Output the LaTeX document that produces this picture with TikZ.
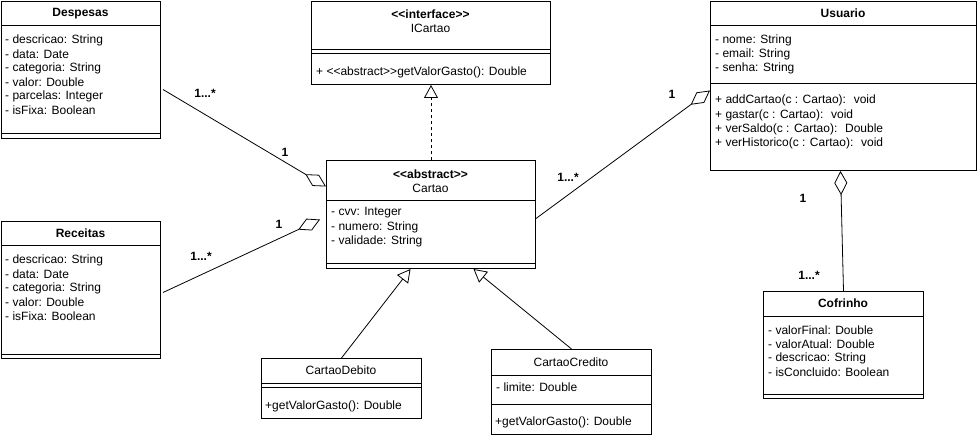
\documentclass[tikz,border=0pt]{standalone}
\usepackage{fontspec}
\setmainfont{Liberation Sans}
\usetikzlibrary{arrows.meta}

\newcommand{\stereo}[1]{<{}<#1>{}>}

\begin{document}
\begin{tikzpicture}[x=1pt, y=-1pt,
		class/.style = {draw, line width=1pt, anchor=north west,
				inner sep=0pt},
		title/.style = {font=\fontsize{12}{14}\selectfont, align=center,
				inner sep=0pt},
		attr/.style = {anchor=west, inner sep=0pt,
				font=\fontsize{12}{14}\selectfont},
		mult/.style = {inner sep=0pt, font=\fontsize{12}{14}\selectfont\bfseries},
		aggr/.style = {line width=0.8pt, -{Diamond[open, length=24pt, width=13pt]}},
		inherit/.style = {line width=0.8pt, -{Triangle[open, length=13pt, width=14pt]}}
	]
	\useasboundingbox (0,0) rectangle (977,438);

	% classes
	\node[class, minimum width=159pt, minimum height=137pt] (desp) at (1,1) {};
	\draw[line width=1pt] (desp.north west) ++(0,25) -- ++(159,0);
	\draw[line width=1pt] (desp.north west) ++(0,133) -- ++(159,0);
	\node[title] (desp-t) at (80.5,13.5) {\bfseries Despesas};
	\foreach \t [count=\i] in {- descricao: String, - data: Date,
			- categoria: String, - valor: Double, - parcelas: Integer,
			- isFixa: Boolean}
		\node[attr] (desp-a\i) at (5,{26+14*\i}) {\t};

	\node[class, minimum width=159pt, minimum height=137pt] (rec) at (1,221) {};
	\draw[line width=1pt] (rec.north west) ++(0,25) -- ++(159,0);
	\draw[line width=1pt] (rec.north west) ++(0,133) -- ++(159,0);
	\node[title] (rec-t) at (80.5,233.5) {\bfseries Receitas};
	\foreach \t [count=\i] in {- descricao: String, - data: Date,
			- categoria: String, - valor: Double, - isFixa: Boolean}
		\node[attr] (rec-a\i) at (5,{246+14*\i}) {\t};

	\node[class, minimum width=239pt, minimum height=83pt] (icartao) at (311,1) {};
	\draw[line width=1pt] (icartao.north west) ++(0,49) -- ++(239,0);
	\draw[line width=1pt] (icartao.north west) ++(0,53) -- ++(239,0);
	\node[title] (icartao-t) at (430.5,21) {\bfseries\stereo{interface}\\ICartao};
	\node[attr] (icartao-m1) at (316,72)
	{+ \stereo{abstract}getValorGasto(): Double};

	\node[class, minimum width=209pt, minimum height=108pt] (cartao) at (326,160) {};
	\draw[line width=1pt] (cartao.north west) ++(0,41) -- ++(209,0);
	\draw[line width=1pt] (cartao.north west) ++(0,104) -- ++(209,0);
	\node[title] (cartao-t) at (430.5,181) {\bfseries\stereo{abstract}\\Cartao};
	\foreach \t [count=\i] in {- cvv: Integer, - numero: String,
			- validade: String}
		\node[attr] (cartao-a\i) at (331,{199+14*\i}) {\t};

	\node[class, minimum width=266pt, minimum height=169pt] (usu) at (710,1) {};
	\draw[line width=1pt] (usu.north west) ++(0,25) -- ++(266,0);
	\draw[line width=1pt] (usu.north west) ++(0,83) -- ++(266,0);
	\node[title] (usu-t) at (843,13.5) {\bfseries Usuario};
	\foreach \t [count=\i] in {- nome: String, - email: String,
			- senha: String}
		\node[attr] (usu-a\i) at (715,{26+14*\i}) {\t};
	\foreach \t [count=\i] in {+ addCartao(c : Cartao):~ void,
			+ gastar(c : Cartao):~ void, + verSaldo(c : Cartao):~ Double,
			+ verHistorico(c : Cartao):~ void}
		\node[attr] (usu-m\i) at (715,{86.5+14.3*\i}) {\t};

	\node[class, minimum width=160pt, minimum height=107pt] (cof) at (763,291) {};
	\draw[line width=1pt] (cof.north west) ++(0,25) -- ++(160,0);
	\draw[line width=1pt] (cof.north west) ++(0,103) -- ++(160,0);
	\node[title] (cof-t) at (843,303.5) {\bfseries Cofrinho};
	\foreach \t [count=\i] in {- valorFinal: Double, - valorAtual: Double,
			- descricao: String, - isConcluido: Boolean}
		\node[attr] (cof-a\i) at (768,{316+14*\i}) {\t};

	\node[class, minimum width=160pt, minimum height=60pt] (deb) at (261,358) {};
	\draw[line width=1pt] (deb.north west) ++(0,25) -- ++(160,0);
	\draw[line width=1pt] (deb.north west) ++(0,29) -- ++(160,0);
	\node[title] (deb-t) at (341,370.5) {CartaoDebito};
	\node[attr] (deb-m1) at (265,406) {+getValorGasto(): Double};

	\node[class, minimum width=160pt, minimum height=85pt] (cred) at (491,349) {};
	\draw[line width=1pt] (cred.north west) ++(0,26) -- ++(160,0);
	\draw[line width=1pt] (cred.north west) ++(0,55) -- ++(160,0);
	\node[title] (cred-t) at (571,362) {CartaoCredito};
	\node[attr] (cred-a1) at (496,387) {- limite: Double};
	\node[attr] (cred-m1) at (495,422) {+getValorGasto(): Double};

	% relations
	\draw[inherit, dashed] (cartao.north) -- (icartao.south);
	\draw[inherit] (deb.north) -- ([xshift=-20.5pt]cartao.south);
	\draw[inherit] (cred.north) -- ([xshift=42.5pt]cartao.south);

	\draw[aggr] ([xshift=2pt,yshift=-19.5pt]desp.east) -- ([yshift=28pt]cartao.west);
	\draw[aggr] ([xshift=2pt,yshift=-2.5pt]rec.east) -- ([xshift=-6pt,yshift=-5pt]cartao.west);
	\draw[aggr] ([yshift=-4pt]cartao.east) -- ([yshift=-4.5pt]usu.west);
	\draw[aggr] (cof.north) -- ([xshift=-3pt]usu.south);

	\node[mult] (m-desp) at (205,93) {1...*};
	\node[mult] (m-desp2) at (285,152) {1};
	\node[mult] (m-rec) at (201,256) {1...*};
	\node[mult] (m-rec2) at (279,224) {1};
	\node[mult] (m-usu) at (568,177) {1...*};
	\node[mult] (m-usu2) at (672,94) {1};
	\node[mult] (m-cof) at (809,275) {1...*};
	\node[mult] (m-cof2) at (803,198) {1};
\end{tikzpicture}
\end{document}
